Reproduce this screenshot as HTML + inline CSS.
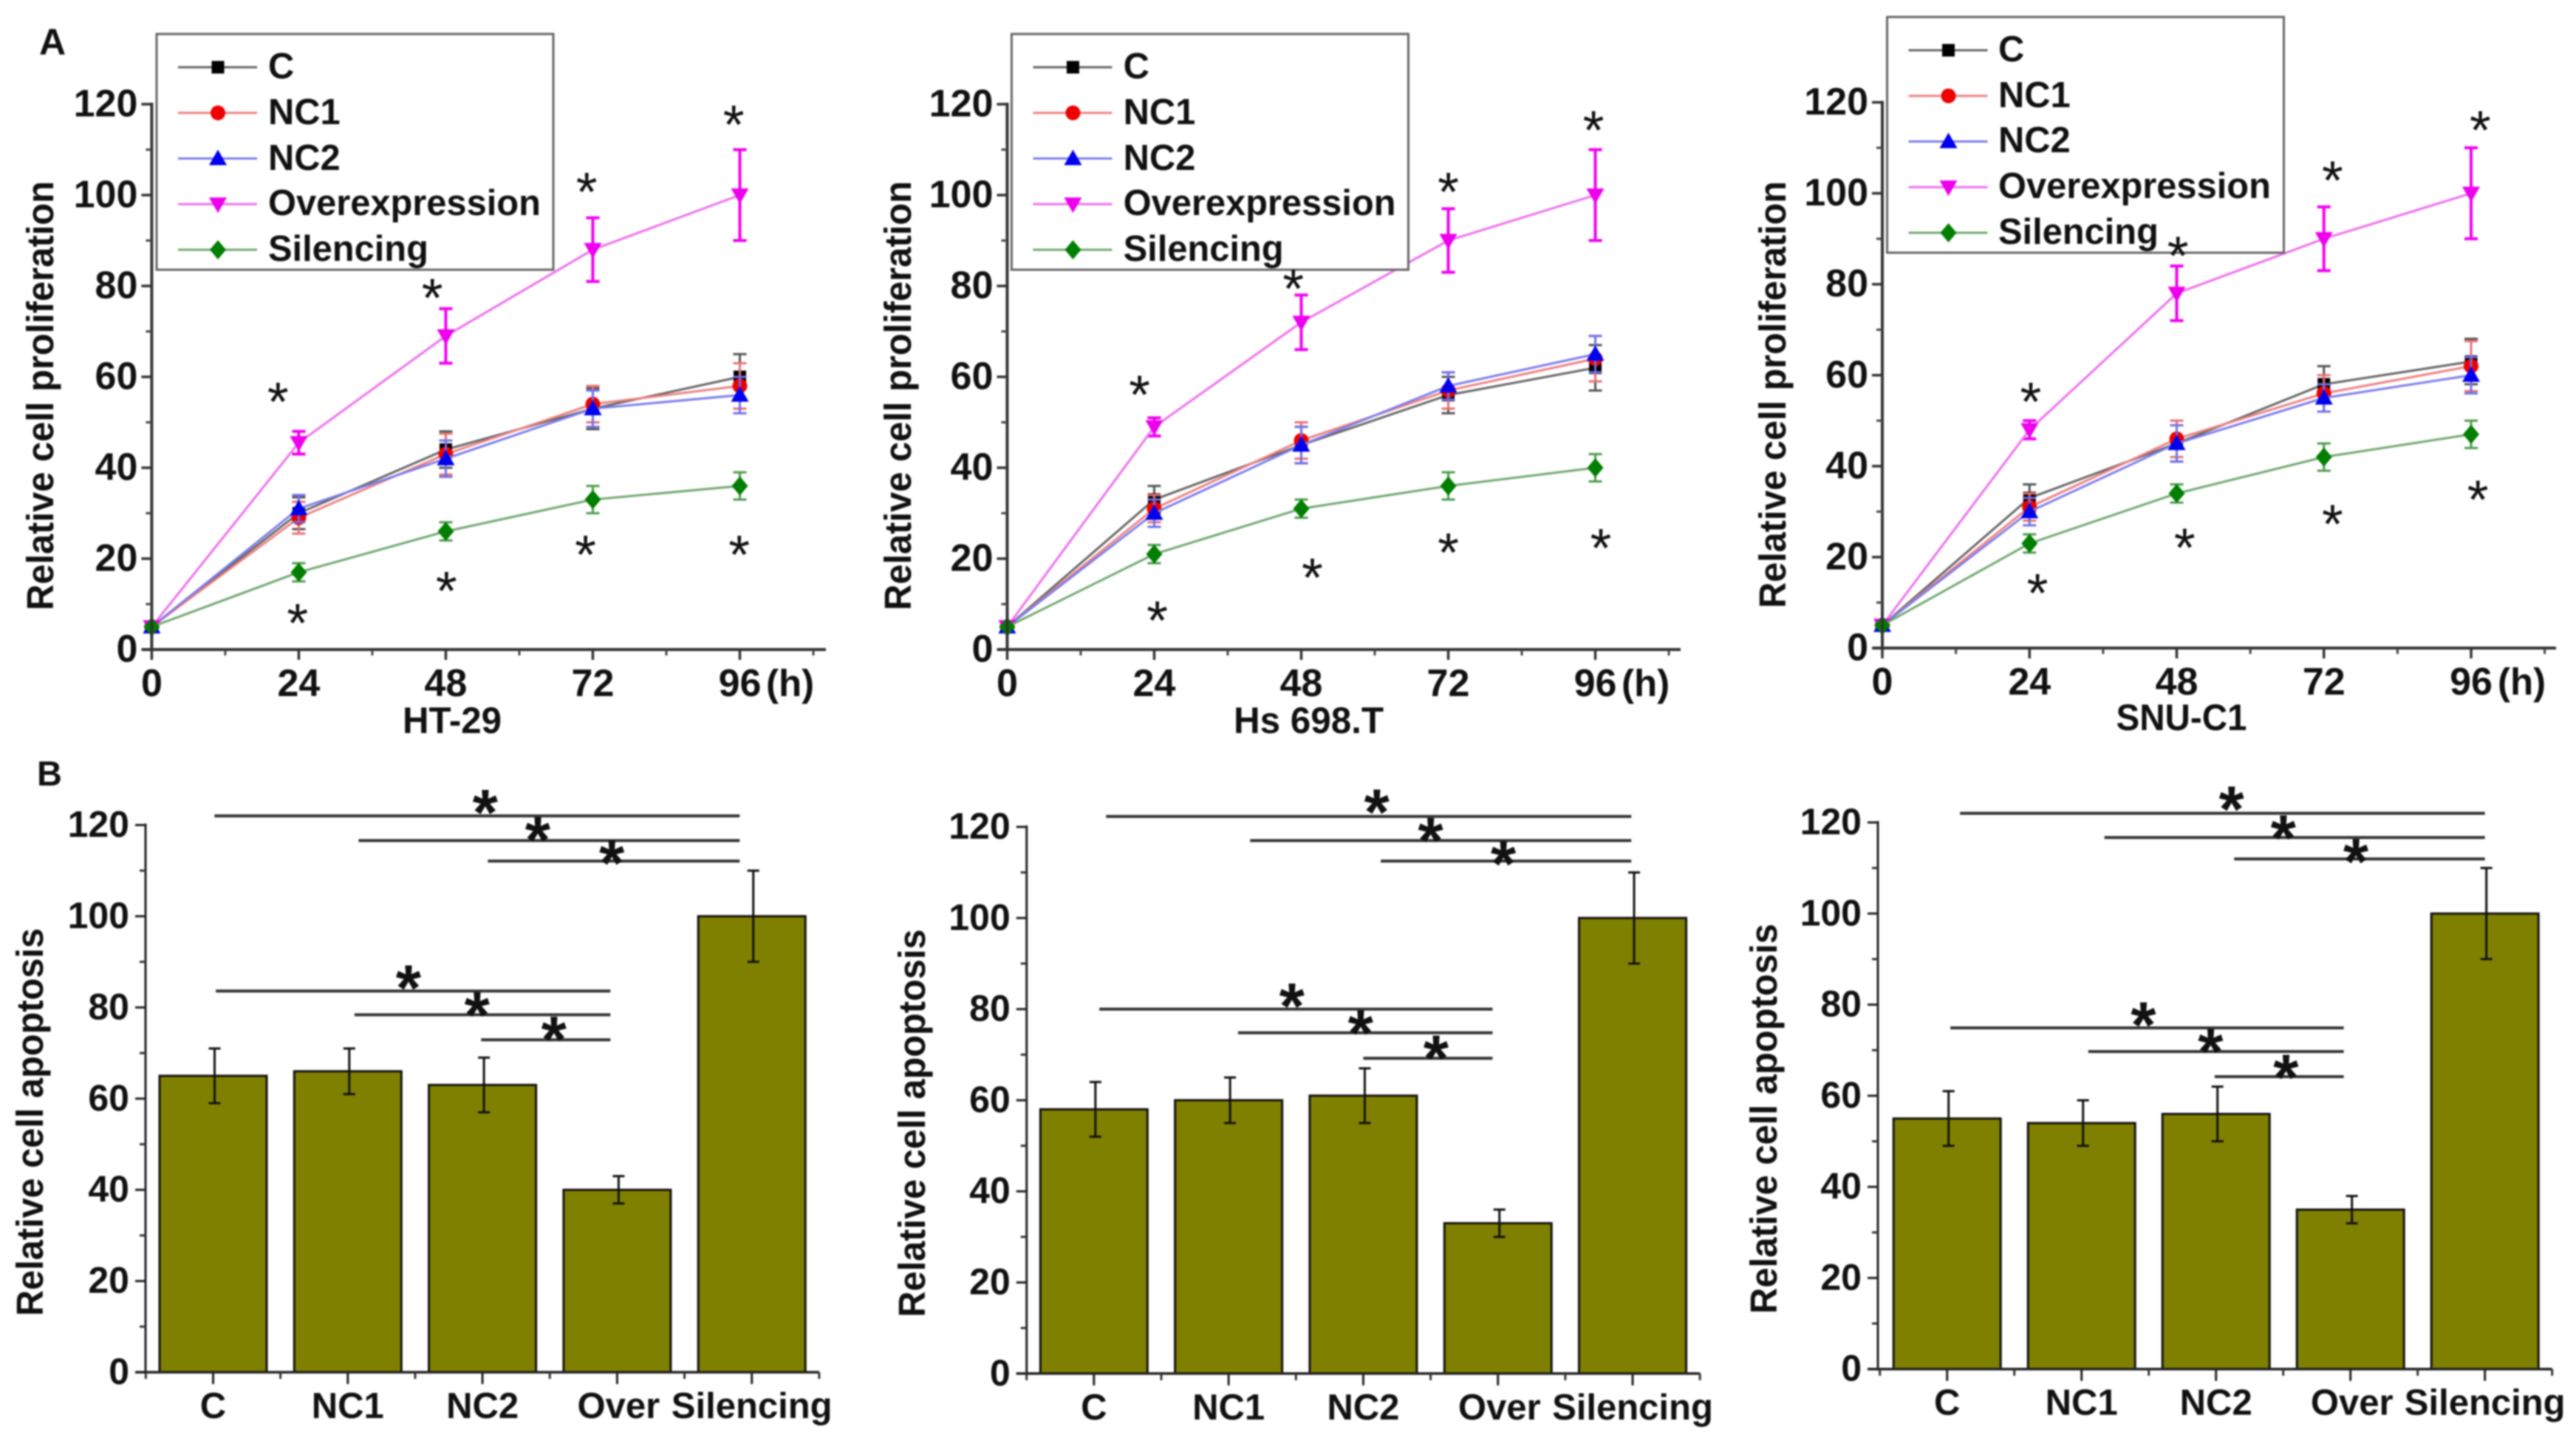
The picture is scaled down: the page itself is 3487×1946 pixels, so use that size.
<!DOCTYPE html>
<html lang="en">
<head>
<meta charset="utf-8">
<title>Relative cell proliferation and apoptosis</title>
<style>
html,body{margin:0;padding:0;background:#fff;width:3487px;height:1946px;overflow:hidden}
svg{display:block;filter:blur(1px)}
text{font-family:"Liberation Sans",sans-serif;font-weight:700;fill:#111}
</style>
</head>
<body>
<svg id="figure" xmlns="http://www.w3.org/2000/svg" width="3487" height="1946" viewBox="0 0 3487 1946">
<rect width="3487" height="1946" fill="#fff"/>

<text x="53" y="74" font-size="50">A</text>
<text x="50" y="1063" font-size="47">B</text>

<g id="a1">
  <g id="a1-plot"></g>
  <g>
    <rect x="212" y="46" width="537" height="319" fill="#fff" stroke="#666" stroke-width="3"/>
    <g id="a1-swatches"></g>
    <text x="363" y="106" font-size="48.8">C</text>
    <text x="363" y="168" font-size="48.8">NC1</text>
    <text x="363" y="230" font-size="48.8">NC2</text>
    <text x="363" y="291" font-size="48.8">Overexpression</text>
    <text x="363" y="353" font-size="48.8">Silencing</text>
  </g>
  <g id="a1-stars"></g>
  <text transform="translate(72 535.5) rotate(-90)" text-anchor="middle" font-size="51" textLength="581" lengthAdjust="spacingAndGlyphs">Relative cell proliferation</text>
  <text x="1037" y="942" font-size="51">(h)</text>
  <text x="612" y="992" text-anchor="middle" font-size="50" textLength="134" lengthAdjust="spacingAndGlyphs">HT-29</text>
</g>

<g id="a2">
  <g id="a2-plot"></g>
  <g>
    <rect x="1369.4" y="46" width="537" height="319" fill="#fff" stroke="#666" stroke-width="3"/>
    <g id="a2-swatches"></g>
    <text x="1520.6" y="106" font-size="48.8">C</text>
    <text x="1520.6" y="168" font-size="48.8">NC1</text>
    <text x="1520.6" y="230" font-size="48.8">NC2</text>
    <text x="1520.6" y="291" font-size="48.8">Overexpression</text>
    <text x="1520.6" y="353" font-size="48.8">Silencing</text>
  </g>
  <g id="a2-stars"></g>
  <text transform="translate(1233 535.5) rotate(-90)" text-anchor="middle" font-size="51" textLength="581" lengthAdjust="spacingAndGlyphs">Relative cell proliferation</text>
  <text x="2195" y="942" font-size="51">(h)</text>
  <text x="1771.5" y="992" text-anchor="middle" font-size="50" textLength="203" lengthAdjust="spacingAndGlyphs">Hs 698.T</text>
</g>

<g id="a3">
  <g id="a3-plot"></g>
  <g>
    <rect x="2554.5" y="23" width="537" height="319" fill="#fff" stroke="#666" stroke-width="3"/>
    <g id="a3-swatches"></g>
    <text x="2705" y="83" font-size="48.8">C</text>
    <text x="2705" y="145" font-size="48.8">NC1</text>
    <text x="2705" y="206" font-size="48.8">NC2</text>
    <text x="2705" y="268" font-size="48.8">Overexpression</text>
    <text x="2705" y="330" font-size="48.8">Silencing</text>
  </g>
  <g id="a3-stars"></g>
  <text transform="translate(2417 534) rotate(-90)" text-anchor="middle" font-size="51" textLength="578" lengthAdjust="spacingAndGlyphs">Relative cell proliferation</text>
  <text x="3381" y="940" font-size="51">(h)</text>
  <text x="2953" y="988" text-anchor="middle" font-size="50" textLength="177" lengthAdjust="spacingAndGlyphs">SNU-C1</text>
</g>

<g id="b1">
  <g id="b1-plot"></g>
  <text transform="translate(58 1518.5) rotate(-90)" text-anchor="middle" font-size="51" textLength="525" lengthAdjust="spacingAndGlyphs">Relative cell apoptosis</text>
</g>
<g id="b2">
  <g id="b2-plot"></g>
  <text transform="translate(1252 1520) rotate(-90)" text-anchor="middle" font-size="51" textLength="525" lengthAdjust="spacingAndGlyphs">Relative cell apoptosis</text>
</g>
<g id="b3">
  <g id="b3-plot"></g>
  <text transform="translate(2405 1514) rotate(-90)" text-anchor="middle" font-size="51" textLength="528" lengthAdjust="spacingAndGlyphs">Relative cell apoptosis</text>
</g>
</svg>

<script>
// ---------- shared categories and tick labels ----------
const hours = [0, 24, 48, 72, 96];
const hourTickLabels = ['0', '24', '48', '72', '96'];
const minorHours = [12, 36, 60, 84, 108];
const valueTicks = [0, 20, 40, 60, 80, 100, 120];
const minorValueTicks = [10, 30, 50, 70, 90, 110];
const barCategories = ['C', 'NC1', 'NC2', 'Over', 'Silencing'];
const seriesNames = ['c', 'nc1', 'nc2', 'overexpression', 'silencing'];

// ---------- HT-29 proliferation ----------
const a1C = [5, 30, 44, 53, 60];
const a1CErr = [0.5, 3.5, 4, 4.5, 5];
const a1NC1 = [5, 29, 43, 54, 58];
const a1NC1Err = [0.5, 3.5, 4.5, 4, 5];
const a1NC2 = [5, 31, 42, 53, 56];
const a1NC2Err = [0.5, 3, 4, 4, 4];
const a1Over = [5, 45.5, 69, 88, 100];
const a1OverErr = [0.5, 2.5, 6, 7, 10];
const a1Sil = [5, 17, 26, 33, 36];
const a1SilErr = [0.5, 2, 2, 3, 3];
const a1StarHours = [20.6, 45.8, 71, 95, 23.8, 48.1, 70.8, 95.9];
const a1StarLevels = [56.3, 79.1, 102.4, 117.2, 7.6, 14.6, 22.6, 22.6];

// ---------- Hs 698.T proliferation ----------
const a2C = [5, 33, 45, 56, 62];
const a2CErr = [0.5, 3, 4, 4, 5];
const a2NC1 = [5, 31, 46, 57, 64];
const a2NC1Err = [0.5, 3, 4, 4, 5];
const a2NC2 = [5, 30, 45, 58, 65];
const a2NC2Err = [0.5, 3, 4, 3, 4];
const a2Over = [5, 49, 72, 90, 100];
const a2OverErr = [0.5, 2, 6, 7, 10];
const a2Sil = [5, 21, 31, 36, 40];
const a2SilErr = [0.5, 2, 2, 3, 3];
const a2StarHours = [21.6, 46.7, 72, 95.7, 24.5, 49.8, 72, 96.9];
const a2StarLevels = [57.8, 81.1, 102.4, 116, 8.1, 17.6, 23.1, 24.1];

// ---------- SNU-C1 proliferation ----------
const a3C = [5, 33, 45, 58, 63];
const a3CErr = [0.5, 3, 4, 4, 5];
const a3NC1 = [5, 31, 46, 56, 62];
const a3NC1Err = [0.5, 3, 4, 4, 5.5];
const a3NC2 = [5, 30, 45, 55, 60];
const a3NC2Err = [0.5, 3, 4, 3, 4];
const a3Over = [5, 48, 78, 90, 100];
const a3OverErr = [0.5, 2, 6, 7, 10];
const a3Sil = [5, 23, 34, 42, 47];
const a3SilErr = [0.5, 2, 2, 3, 3];
const a3StarHours = [24.2, 48.2, 73.4, 97.5, 25.3, 49.3, 73.4, 97.1];
const a3StarLevels = [55.9, 88, 104.6, 115.6, 13.8, 23.8, 29, 34.4];

// ---------- apoptosis bars ----------
const b1Values = [65, 66, 63, 40, 100];
const b1Err = [6, 5, 6, 3, 10];
const b2Values = [58, 60, 61, 33, 100];
const b2Err = [6, 5, 6, 3, 10];
const b3Values = [55, 54, 56, 35, 100];
const b3Err = [6, 5, 6, 3, 10];

// significance brackets: start category, end category, level; star category, star level
const b1SigFrom = [0.01, 1.08, 2.04, 0.02, 1.05, 1.99];
const b1SigTo = [3.91, 3.91, 3.91, 2.95, 2.95, 2.95];
const b1SigLevel = [122, 116.6, 112.1, 83.6, 78.4, 72.9];
const b1StarCat = [2.02, 2.41, 2.96, 1.45, 1.96, 2.53];
const b1StarLevel = [125, 119, 113.9, 86.5, 80.6, 75.3];

const b2SigFrom = [0.09, 1.16, 2.13, 0.04, 1.07, 2];
const b2SigTo = [3.99, 3.99, 3.99, 2.96, 2.96, 2.96];
const b2SigLevel = [122.3, 117, 112.5, 80, 74.8, 69.2];
const b2StarCat = [2.1, 2.5, 3.04, 1.47, 1.98, 2.54];
const b2StarLevel = [125.5, 119.3, 114.2, 82.9, 77, 71.5];

const b3SigFrom = [0.096, 1.17, 2.135, 0.024, 1.05, 1.99];
const b3SigTo = [4, 4, 4, 2.95, 2.95, 2.95];
const b3SigLevel = [122, 116.7, 112, 74.9, 69.7, 64.2];
const b3StarCat = [2.115, 2.5, 3.04, 1.46, 1.96, 2.52];
const b3StarLevel = [125.2, 118.9, 113.7, 77.8, 72, 66.3];

// ---------- styles ----------
const lineColors = ['#666666', '#ee8080', '#7c7cee', '#ee70ee', '#70a870'];
const errColors = ['#555555', '#e87070', '#7070e8', '#f000f0', '#4c9c4c'];
const markerColors = ['#000000', '#ee0000', '#0000ee', '#ee00ee', '#007f00'];
const markerKinds = ['square', 'circle', 'up', 'down', 'diamond'];

const NS = 'http://www.w3.org/2000/svg';
function node(tag, parent) {
  const el = document.createElementNS(NS, tag);
  parent.appendChild(el);
  return el;
}
function line(parent, x1, y1, x2, y2, color, width) {
  const el = node('line', parent);
  el.setAttribute('x1', x1);
  el.setAttribute('y1', y1);
  el.setAttribute('x2', x2);
  el.setAttribute('y2', y2);
  el.setAttribute('stroke', color);
  el.setAttribute('stroke-width', width);
  return el;
}
function label(parent, x, y, str, size, anchor, weight) {
  const el = node('text', parent);
  el.setAttribute('x', x);
  el.setAttribute('y', y);
  el.setAttribute('font-size', size);
  el.setAttribute('text-anchor', anchor);
  if (weight) el.setAttribute('style', 'font-weight:' + weight);
  el.textContent = str;
  return el;
}
function marker(parent, kind, x, y, color) {
  let el;
  if (kind === 'square') {
    el = node('rect', parent);
    el.setAttribute('x', x - 8.5);
    el.setAttribute('y', y - 8.5);
    el.setAttribute('width', 17);
    el.setAttribute('height', 17);
  } else if (kind === 'circle') {
    el = node('circle', parent);
    el.setAttribute('cx', x);
    el.setAttribute('cy', y);
    el.setAttribute('r', 10);
  } else {
    el = node('polygon', parent);
    let pts;
    if (kind === 'up') pts = [[x, y - 12], [x + 12, y + 9], [x - 12, y + 9]];
    else if (kind === 'down') pts = [[x, y + 12], [x + 12, y - 9], [x - 12, y - 9]];
    else pts = [[x, y - 13], [x + 11, y], [x, y + 13], [x - 11, y]];
    el.setAttribute('points', pts.map(p => p.join(',')).join(' '));
  }
  el.setAttribute('fill', color);
  return el;
}

// ---------- proliferation line chart ----------
function drawLineChart(id, geo, values, errs, starHours, starLevels, legend) {
  const plot = document.getElementById(id + '-plot');
  const xScale = h => geo.x0 + (geo.x96 - geo.x0) * h / 96;
  const yScale = v => geo.y0 - (geo.y0 - geo.y120) * v / 120;

  values.forEach((series, s) => {
    const g = node('g', plot);
    
    
    series.forEach((v, i) => {
      if (i === 0) return;
      const x = xScale(hours[i]);
      const bar = node('g', g);
      
      
      const w = s === 3 ? 4 : 3;
      line(bar, x, yScale(v - errs[s][i]), x, yScale(v + errs[s][i]), errColors[s], w);
      line(bar, x - 9, yScale(v + errs[s][i]), x + 9, yScale(v + errs[s][i]), errColors[s], w);
      line(bar, x - 9, yScale(v - errs[s][i]), x + 9, yScale(v - errs[s][i]), errColors[s], w);
    });
    const path = node('polyline', g);
    
    
    path.setAttribute('fill', 'none');
    path.setAttribute('stroke', lineColors[s]);
    path.setAttribute('stroke-width', 3);
    path.setAttribute('points', series.map((v, i) => xScale(hours[i]) + ',' + yScale(v)).join(' '));
    series.forEach((v, i) => {
      const m = marker(g, markerKinds[s], xScale(hours[i]), yScale(v), markerColors[s]);
      
      
    });
  });

  // axes
  const yAxis = line(plot, geo.x0, geo.y0 + 2, geo.x0, geo.y120 - 2, '#333', 4);
  
  
  const xAxis = line(plot, geo.x0 - 13, geo.y0, geo.xEnd, geo.y0, '#333', 4);
  
  
  valueTicks.forEach((v, i) => {
    const t = line(plot, geo.x0 - 14, yScale(v), geo.x0, yScale(v), '#333', 3.5);
    
    
    const l = label(plot, geo.x0 - 19, yScale(v) + 16.5, String(v), 52, 'end');
    
    
  });
  minorValueTicks.forEach(v => {
    const t = line(plot, geo.x0 - 8, yScale(v), geo.x0, yScale(v), '#444', 3);
    
    
  });
  hours.forEach((h, i) => {
    const t = line(plot, xScale(h), geo.y0, xScale(h), geo.y0 + 14, '#333', 3.5);
    
    
    const l = label(plot, xScale(h), geo.y0 + 63, hourTickLabels[i], 52, 'middle');
    
    
  });
  minorHours.forEach(h => {
    const t = line(plot, xScale(h), geo.y0, xScale(h), geo.y0 + 8, '#444', 3);
    
    
  });

  // significance stars sit above the legend box
  const starLayer = document.getElementById(id + '-stars');
  starHours.forEach((h, i) => {
    const st = label(starLayer, xScale(h), yScale(starLevels[i]) + 36, '*', 74, 'middle', 400);
    
    
  });

  // legend swatches
  const sw = document.getElementById(id + '-swatches');
  seriesNames.forEach((n, s) => {
    const y = legend.top + 45 + s * 61.75;
    const ln = line(sw, legend.left + 29, y, legend.left + 136, y, lineColors[s], 3);
    
    
    const m = marker(sw, markerKinds[s], legend.left + 83, y, markerColors[s]);
    
    
  });
}

// ---------- apoptosis bar chart ----------
function drawBarChart(id, geo, values, errs, sigFrom, sigTo, sigLevel, starCat, starLevel) {
  const plot = document.getElementById(id + '-plot');
  const xScale = c => geo.c0 + geo.step * c;
  const yScale = v => geo.y0 - (geo.y0 - geo.y120) * v / 120;
  const barW = 145;

  values.forEach((v, i) => {
    const r = node('rect', plot);
    
    
    r.setAttribute('x', xScale(i) - barW / 2);
    r.setAttribute('y', yScale(v));
    r.setAttribute('width', barW);
    r.setAttribute('height', geo.y0 - yScale(v));
    r.setAttribute('fill', '#808000');
    r.setAttribute('stroke', '#111');
    r.setAttribute('stroke-width', 3);
    const top = yScale(v + errs[i]);
    const bot = yScale(v - errs[i]);
    const g = node('g', plot);
    
    
    line(g, xScale(i) + 2, top, xScale(i) + 2, bot, '#111', 3);
    line(g, xScale(i) - 6, top, xScale(i) + 10, top, '#111', 3);
    line(g, xScale(i) - 6, bot, xScale(i) + 10, bot, '#111', 3);
  });

  const yAxis = line(plot, geo.x0, geo.y0 + 2, geo.x0, geo.y120 - 2, '#222', 3);
  
  
  const xAxis = line(plot, geo.x0 - 14, geo.y0, geo.c0 + geo.step * 4.5, geo.y0, '#222', 3.5);
  
  
  valueTicks.forEach(v => {
    const t = line(plot, geo.x0 - 14, yScale(v), geo.x0, yScale(v), '#222', 3);
    
    
    const l = label(plot, geo.x0 - 22, yScale(v) + 16, String(v), 50, 'end');
    
    
  });
  minorValueTicks.forEach(v => {
    const t = line(plot, geo.x0 - 8, yScale(v), geo.x0, yScale(v), '#333', 3);
    
    
  });
  barCategories.forEach((c, i) => {
    const t = line(plot, xScale(i), geo.y0, xScale(i), geo.y0 + 16, '#222', 3);
    
    
    const edge = line(plot, xScale(i - 0.5), geo.y0, xScale(i - 0.5), geo.y0 + 9, '#333', 3);
    
    
    const lx = i === 3 ? xScale(i) + 2 : xScale(i);
    const l = label(plot, lx, geo.y0 + 62, c, 49, 'middle');
    
    
  });
  const last = line(plot, xScale(4.5), geo.y0, xScale(4.5), geo.y0 + 9, '#333', 3);
  
  

  sigLevel.forEach((lv, i) => {
    const b = line(plot, xScale(sigFrom[i]), yScale(lv), xScale(sigTo[i]), yScale(lv), '#333', 4);
    
    
    const st = label(plot, xScale(starCat[i]), yScale(starLevel[i]) + 44, '*', 88, 'middle');
    
    
  });
}

drawLineChart('a1', {x0: 205.4, x96: 1001.5, y0: 879, y120: 141, xEnd: 1118},
  [a1C, a1NC1, a1NC2, a1Over, a1Sil], [a1CErr, a1NC1Err, a1NC2Err, a1OverErr, a1SilErr],
  a1StarHours, a1StarLevels, {left: 212, top: 46});
drawLineChart('a2', {x0: 1363.4, x96: 2159.5, y0: 879, y120: 141, xEnd: 2275},
  [a2C, a2NC1, a2NC2, a2Over, a2Sil], [a2CErr, a2NC1Err, a2NC2Err, a2OverErr, a2SilErr],
  a2StarHours, a2StarLevels, {left: 1369.4, top: 46});
drawLineChart('a3', {x0: 2548, x96: 3345, y0: 877, y120: 138.5, xEnd: 3460},
  [a3C, a3NC1, a3NC2, a3Over, a3Sil], [a3CErr, a3NC1Err, a3NC2Err, a3OverErr, a3SilErr],
  a3StarHours, a3StarLevels, {left: 2554.5, top: 23});

drawBarChart('b1', {x0: 197, c0: 288.5, step: 182.3, y0: 1857, y120: 1116.5},
  b1Values, b1Err, b1SigFrom, b1SigTo, b1SigLevel, b1StarCat, b1StarLevel);
drawBarChart('b2', {x0: 1389.7, c0: 1480.8, step: 182.3, y0: 1858.8, y120: 1119},
  b2Values, b2Err, b2SigFrom, b2SigTo, b2SigLevel, b2StarCat, b2StarLevel);
drawBarChart('b3', {x0: 2542, c0: 2635.7, step: 182, y0: 1852.7, y120: 1113},
  b3Values, b3Err, b3SigFrom, b3SigTo, b3SigLevel, b3StarCat, b3StarLevel);
</script>
</body>
</html>
